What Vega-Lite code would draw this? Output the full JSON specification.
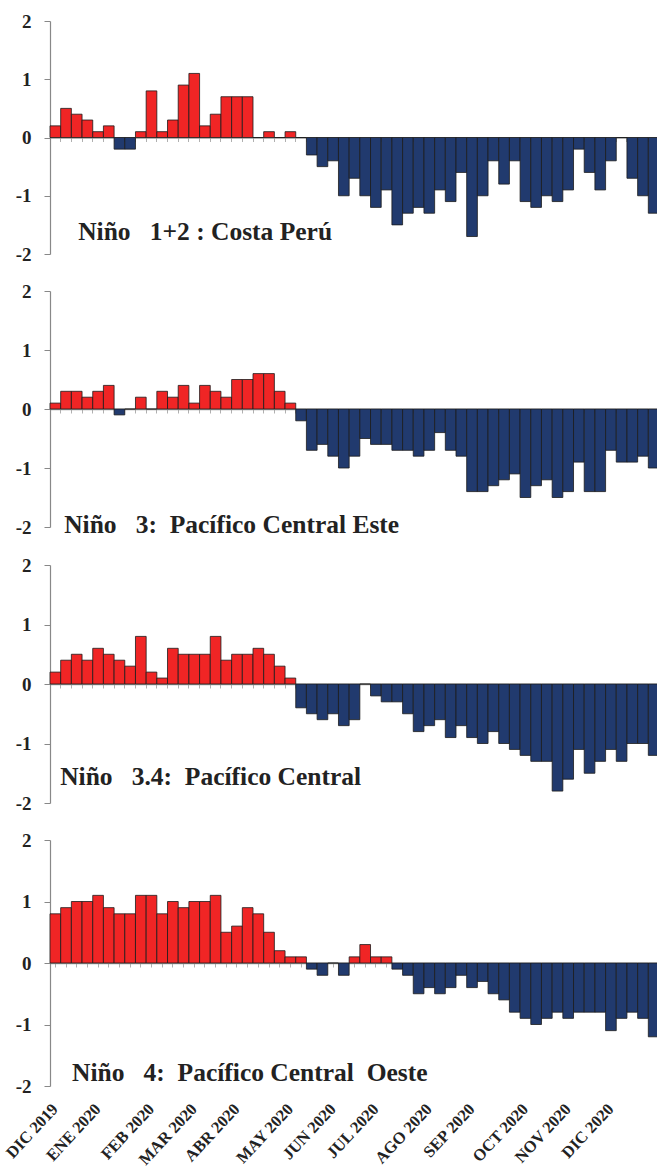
{
  "$schema": "https://vega.github.io/schema/vega-lite/v6.json",
  "background": "white",
  "padding": {"left": 3, "top": 12, "right": 0, "bottom": 0},
  "spacing": 18,
  "datasets": {
    "semanal": [
      {"semana": "2019-12-04", "n12": 0.2, "n3": 0.1, "n34": 0.2, "n4": 0.8},
      {"semana": "2019-12-11", "n12": 0.5, "n3": 0.3, "n34": 0.4, "n4": 0.9},
      {"semana": "2019-12-18", "n12": 0.4, "n3": 0.3, "n34": 0.5, "n4": 1.0},
      {"semana": "2019-12-25", "n12": 0.3, "n3": 0.2, "n34": 0.4, "n4": 1.0},
      {"semana": "2020-01-01", "n12": 0.1, "n3": 0.3, "n34": 0.6, "n4": 1.1},
      {"semana": "2020-01-08", "n12": 0.2, "n3": 0.4, "n34": 0.5, "n4": 0.9},
      {"semana": "2020-01-15", "n12": -0.2, "n3": -0.1, "n34": 0.4, "n4": 0.8},
      {"semana": "2020-01-22", "n12": -0.2, "n3": 0.0, "n34": 0.3, "n4": 0.8},
      {"semana": "2020-01-29", "n12": 0.1, "n3": 0.2, "n34": 0.8, "n4": 1.1},
      {"semana": "2020-02-05", "n12": 0.8, "n3": 0.0, "n34": 0.2, "n4": 1.1},
      {"semana": "2020-02-12", "n12": 0.1, "n3": 0.3, "n34": 0.1, "n4": 0.8},
      {"semana": "2020-02-19", "n12": 0.3, "n3": 0.2, "n34": 0.6, "n4": 1.0},
      {"semana": "2020-02-26", "n12": 0.9, "n3": 0.4, "n34": 0.5, "n4": 0.9},
      {"semana": "2020-03-04", "n12": 1.1, "n3": 0.1, "n34": 0.5, "n4": 1.0},
      {"semana": "2020-03-11", "n12": 0.2, "n3": 0.4, "n34": 0.5, "n4": 1.0},
      {"semana": "2020-03-18", "n12": 0.4, "n3": 0.3, "n34": 0.8, "n4": 1.1},
      {"semana": "2020-03-25", "n12": 0.7, "n3": 0.2, "n34": 0.4, "n4": 0.5},
      {"semana": "2020-04-01", "n12": 0.7, "n3": 0.5, "n34": 0.5, "n4": 0.6},
      {"semana": "2020-04-08", "n12": 0.7, "n3": 0.5, "n34": 0.5, "n4": 0.9},
      {"semana": "2020-04-15", "n12": 0.0, "n3": 0.6, "n34": 0.6, "n4": 0.8},
      {"semana": "2020-04-22", "n12": 0.1, "n3": 0.6, "n34": 0.5, "n4": 0.5},
      {"semana": "2020-04-29", "n12": 0.0, "n3": 0.3, "n34": 0.3, "n4": 0.2},
      {"semana": "2020-05-06", "n12": 0.1, "n3": 0.1, "n34": 0.1, "n4": 0.1},
      {"semana": "2020-05-13", "n12": 0.0, "n3": -0.2, "n34": -0.4, "n4": 0.1},
      {"semana": "2020-05-20", "n12": -0.3, "n3": -0.7, "n34": -0.5, "n4": -0.1},
      {"semana": "2020-05-27", "n12": -0.5, "n3": -0.6, "n34": -0.6, "n4": -0.2},
      {"semana": "2020-06-03", "n12": -0.4, "n3": -0.8, "n34": -0.5, "n4": 0.0},
      {"semana": "2020-06-10", "n12": -1.0, "n3": -1.0, "n34": -0.7, "n4": -0.2},
      {"semana": "2020-06-17", "n12": -0.7, "n3": -0.8, "n34": -0.6, "n4": 0.1},
      {"semana": "2020-06-24", "n12": -1.0, "n3": -0.5, "n34": 0.0, "n4": 0.3},
      {"semana": "2020-07-01", "n12": -1.2, "n3": -0.6, "n34": -0.2, "n4": 0.1},
      {"semana": "2020-07-08", "n12": -0.9, "n3": -0.6, "n34": -0.3, "n4": 0.1},
      {"semana": "2020-07-15", "n12": -1.5, "n3": -0.7, "n34": -0.3, "n4": -0.1},
      {"semana": "2020-07-22", "n12": -1.3, "n3": -0.7, "n34": -0.5, "n4": -0.2},
      {"semana": "2020-07-29", "n12": -1.2, "n3": -0.8, "n34": -0.8, "n4": -0.5},
      {"semana": "2020-08-05", "n12": -1.3, "n3": -0.7, "n34": -0.7, "n4": -0.4},
      {"semana": "2020-08-12", "n12": -0.9, "n3": -0.4, "n34": -0.6, "n4": -0.5},
      {"semana": "2020-08-19", "n12": -1.1, "n3": -0.7, "n34": -0.9, "n4": -0.4},
      {"semana": "2020-08-26", "n12": -0.6, "n3": -0.8, "n34": -0.7, "n4": -0.2},
      {"semana": "2020-09-02", "n12": -1.7, "n3": -1.4, "n34": -0.9, "n4": -0.4},
      {"semana": "2020-09-09", "n12": -1.0, "n3": -1.4, "n34": -1.0, "n4": -0.3},
      {"semana": "2020-09-16", "n12": -0.4, "n3": -1.3, "n34": -0.8, "n4": -0.5},
      {"semana": "2020-09-23", "n12": -0.8, "n3": -1.2, "n34": -1.0, "n4": -0.6},
      {"semana": "2020-09-30", "n12": -0.4, "n3": -1.1, "n34": -1.1, "n4": -0.8},
      {"semana": "2020-10-07", "n12": -1.1, "n3": -1.5, "n34": -1.2, "n4": -0.9},
      {"semana": "2020-10-14", "n12": -1.2, "n3": -1.3, "n34": -1.3, "n4": -1.0},
      {"semana": "2020-10-21", "n12": -1.0, "n3": -1.2, "n34": -1.3, "n4": -0.9},
      {"semana": "2020-10-28", "n12": -1.1, "n3": -1.5, "n34": -1.8, "n4": -0.8},
      {"semana": "2020-11-04", "n12": -0.9, "n3": -1.4, "n34": -1.6, "n4": -0.9},
      {"semana": "2020-11-11", "n12": -0.2, "n3": -0.9, "n34": -1.1, "n4": -0.8},
      {"semana": "2020-11-18", "n12": -0.6, "n3": -1.4, "n34": -1.5, "n4": -0.8},
      {"semana": "2020-11-25", "n12": -0.9, "n3": -1.4, "n34": -1.3, "n4": -0.8},
      {"semana": "2020-12-02", "n12": -0.4, "n3": -0.7, "n34": -1.1, "n4": -1.1},
      {"semana": "2020-12-09", "n12": 0.0, "n3": -0.9, "n34": -1.3, "n4": -0.9},
      {"semana": "2020-12-16", "n12": -0.7, "n3": -0.9, "n34": -1.0, "n4": -0.8},
      {"semana": "2020-12-23", "n12": -1.0, "n3": -0.8, "n34": -1.0, "n4": -0.9},
      {"semana": "2020-12-30", "n12": -1.3, "n3": -1.0, "n34": -1.2, "n4": -1.2}
    ]
  },
  "config": {
    "view": {"stroke": null},
    "axisY": {
      "labelFont": "Liberation Serif",
      "labelFontWeight": "bold",
      "labelFontSize": 19,
      "labelColor": "#222222",
      "labelPadding": 13,
      "tickSize": 6,
      "tickColor": "#888888",
      "domainColor": "#888888",
      "domainWidth": 1.2,
      "grid": false,
      "title": null
    },
    "axisX": {
      "domainColor": "#9a9a9a",
      "domainWidth": 1.5,
      "tickColor": "#b0b0b0",
      "tickSize": 4,
      "grid": false,
      "title": null
    },
    "bar": {"stroke": "#1c1c1c", "strokeWidth": 0.8}
  },
  "vconcat": [
    {
      "width": 609,
      "height": 233,
      "data": {"name": "semanal"},
      "title": {"text": "Niño\u00a0\u00a0 1+2 : Costa Perú", "anchor": "start", "orient": "top", "offset": -233, "dx": 63, "font": "Liberation Serif", "fontSize": 25.5, "fontWeight": "bold", "color": "#222222"},
      "mark": {"type": "bar"},
      "encoding": {
        "x": {"field": "semana", "type": "ordinal", "scale": {"paddingInner": 0, "paddingOuter": 0}, "axis": {"labels": false, "offset": -116.5, "bandPosition": 0}},
        "y": {"field": "n12", "type": "quantitative", "scale": {"domain": [-2, 2], "nice": false}, "axis": {"values": [-2, -1, 0, 1, 2], "labelExpr": "'' + datum.value"}},
        "color": {"condition": {"test": "datum.n12 >= 0", "value": "#f02525"}, "value": "#213a6e"}
      }
    },
    {
      "width": 609,
      "height": 236,
      "data": {"name": "semanal"},
      "title": {"text": "Niño\u00a0\u00a0 3:\u00a0 Pacífico Central Este", "anchor": "start", "orient": "top", "offset": -256, "dx": 49, "font": "Liberation Serif", "fontSize": 25.5, "fontWeight": "bold", "color": "#222222"},
      "mark": {"type": "bar"},
      "encoding": {
        "x": {"field": "semana", "type": "ordinal", "scale": {"paddingInner": 0, "paddingOuter": 0}, "axis": {"labels": false, "offset": -118, "bandPosition": 0}},
        "y": {"field": "n3", "type": "quantitative", "scale": {"domain": [-2, 2], "nice": false}, "axis": {"values": [-2, -1, 0, 1, 2], "labelExpr": "'' + datum.value"}},
        "color": {"condition": {"test": "datum.n3 >= 0", "value": "#f02525"}, "value": "#213a6e"}
      }
    },
    {
      "width": 609,
      "height": 238,
      "data": {"name": "semanal"},
      "title": {"text": "Niño\u00a0\u00a0 3.4:\u00a0 Pacífico Central", "anchor": "start", "orient": "top", "offset": -234, "dx": 45, "font": "Liberation Serif", "fontSize": 25.5, "fontWeight": "bold", "color": "#222222"},
      "mark": {"type": "bar"},
      "encoding": {
        "x": {"field": "semana", "type": "ordinal", "scale": {"paddingInner": 0, "paddingOuter": 0}, "axis": {"labels": false, "offset": -119, "bandPosition": 0}},
        "y": {"field": "n34", "type": "quantitative", "scale": {"domain": [-2, 2], "nice": false}, "axis": {"values": [-2, -1, 0, 1, 2], "labelExpr": "'' + datum.value"}},
        "color": {"condition": {"test": "datum.n34 >= 0", "value": "#f02525"}, "value": "#213a6e"}
      }
    },
    {
      "width": 609,
      "height": 246,
      "data": {"name": "semanal"},
      "title": {"text": "Niño\u00a0\u00a0 4:\u00a0 Pacífico Central\u00a0 Oeste", "anchor": "start", "orient": "top", "offset": -255, "dx": 69, "font": "Liberation Serif", "fontSize": 25.5, "fontWeight": "bold", "color": "#222222"},
      "mark": {"type": "bar"},
      "encoding": {
        "x": {
          "field": "semana", "type": "ordinal",
          "scale": {"paddingInner": 0, "paddingOuter": 0},
          "axis": {
            "offset": -123,
            "labelPadding": 139,
            "labelAngle": -47,
            "labelAlign": "right",
            "labelBaseline": "middle",
            "labelOverlap": false,
            "labelFont": "Liberation Serif",
            "labelFontWeight": "bold",
            "labelFontSize": 16.5,
            "labelColor": "#222222",
            "labelExpr": "toNumber(slice(datum.value, 8, 10)) <= 7 ? ['ENE','FEB','MAR','ABR','MAY','JUN','JUL','AGO','SEP','OCT','NOV','DIC'][toNumber(slice(datum.value, 5, 7)) - 1] + ' ' + slice(datum.value, 0, 4) : ''"
          }
        },
        "y": {"field": "n4", "type": "quantitative", "scale": {"domain": [-2, 2], "nice": false}, "axis": {"values": [-2, -1, 0, 1, 2], "labelExpr": "'' + datum.value"}},
        "color": {"condition": {"test": "datum.n4 >= 0", "value": "#f02525"}, "value": "#213a6e"}
      }
    }
  ]
}
